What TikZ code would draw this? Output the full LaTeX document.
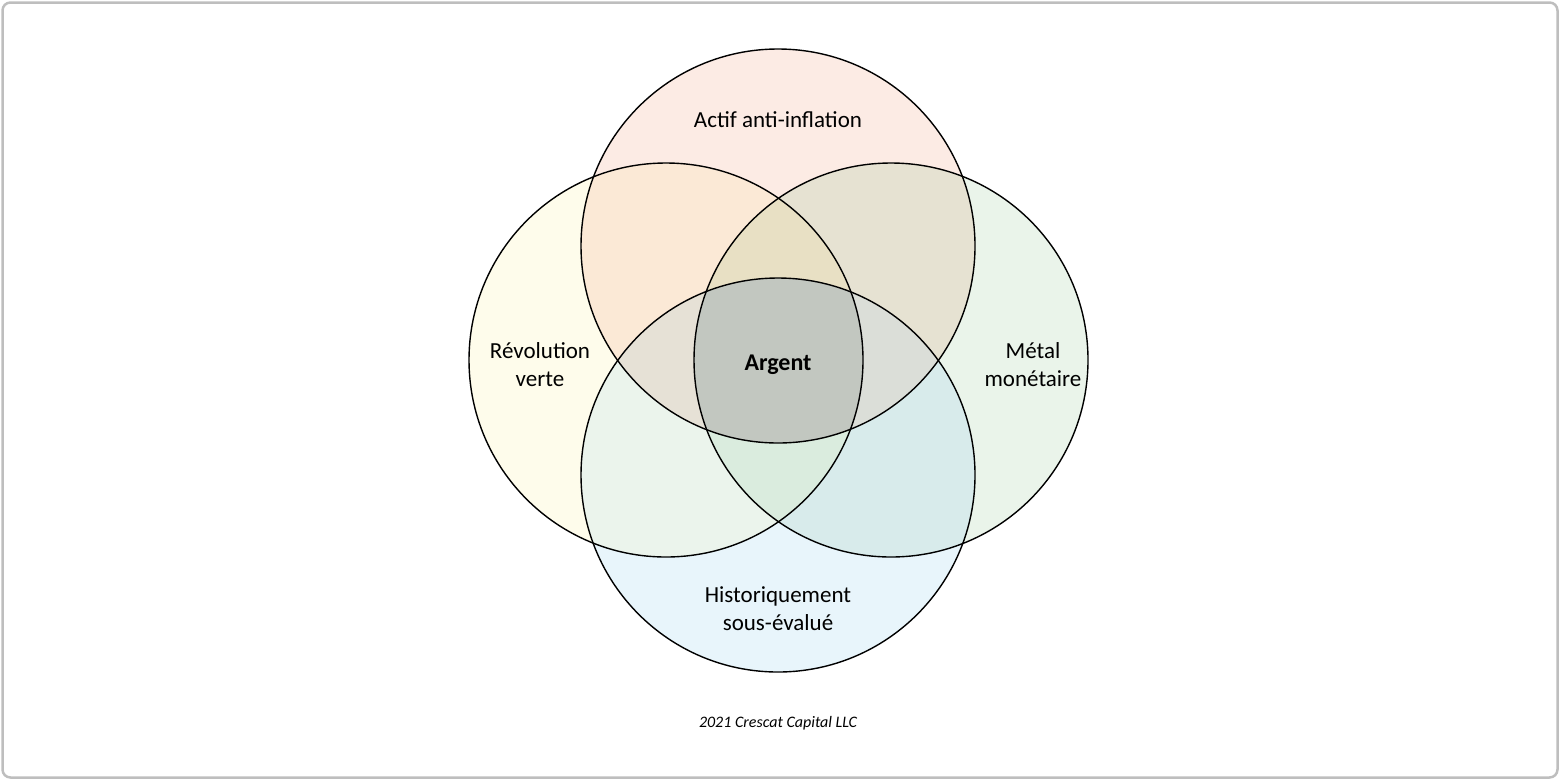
\documentclass[tikz,border=0pt]{standalone}
\usepackage{fontspec}
\setmainfont{Carlito}
\definecolor{fillT}{HTML}{FCEBE4}
\definecolor{fillL}{HTML}{FEFCEB}
\definecolor{fillR}{HTML}{EAF4EA}
\definecolor{fillB}{HTML}{E8F5FB}
\definecolor{fillTL}{HTML}{FBE9D6}
\definecolor{fillTR}{HTML}{E6E2D2}
\definecolor{fillLB}{HTML}{EBF4EC}
\definecolor{fillRB}{HTML}{D8EBEB}
\definecolor{fillTLR}{HTML}{E8E0C4}
\definecolor{fillTLB}{HTML}{E6E1D6}
\definecolor{fillTRB}{HTML}{DBDED8}
\definecolor{fillLRB}{HTML}{DAECDE}
\definecolor{fillAll}{HTML}{C2C7C0}
\definecolor{framegray}{HTML}{BEBEBE}
\newcommand{\rad}{197}

\begin{document}
\begin{tikzpicture}[x=1pt, y=-1pt,
	label/.style={align=center, font=\fontsize{23}{28}\selectfont},
	ring/.style={draw=black, line width=1.4pt}]
	\useasboundingbox (0,0) rectangle (1560,780);
	\draw[framegray, line width=2.5pt, rounded corners=8pt] (2.5,2.5) rectangle (1557.5,777.5);

	\coordinate (top) at (778,246);
	\coordinate (left) at (666,360);
	\coordinate (right) at (891,360);
	\coordinate (bottom) at (778,475);

	% single circles
	\fill[fillT] (top) circle[radius=\rad];
	\fill[fillL] (left) circle[radius=\rad];
	\fill[fillR] (right) circle[radius=\rad];
	\fill[fillB] (bottom) circle[radius=\rad];

	% pairs
	\begin{scope}
		\clip (top) circle[radius=\rad];
		\fill[fillTL] (left) circle[radius=\rad];
		\fill[fillTR] (right) circle[radius=\rad];
	\end{scope}
	\begin{scope}
		\clip (bottom) circle[radius=\rad];
		\fill[fillLB] (left) circle[radius=\rad];
		\fill[fillRB] (right) circle[radius=\rad];
	\end{scope}

	% triples
	\begin{scope}
		\clip (top) circle[radius=\rad];
		\clip (left) circle[radius=\rad];
		\fill[fillTLR] (right) circle[radius=\rad];
		\fill[fillTLB] (bottom) circle[radius=\rad];
	\end{scope}
	\begin{scope}
		\clip (bottom) circle[radius=\rad];
		\clip (right) circle[radius=\rad];
		\fill[fillTRB] (top) circle[radius=\rad];
		\fill[fillLRB] (left) circle[radius=\rad];
	\end{scope}

	% all four
	\begin{scope}
		\clip (top) circle[radius=\rad];
		\clip (left) circle[radius=\rad];
		\clip (right) circle[radius=\rad];
		\fill[fillAll] (bottom) circle[radius=\rad];
	\end{scope}

	\draw[ring] (top) circle[radius=\rad];
	\draw[ring] (left) circle[radius=\rad];
	\draw[ring] (right) circle[radius=\rad];
	\draw[ring] (bottom) circle[radius=\rad];

	\node[label] (inflation) at (778,120) {Actif anti-inflation};
	\node[label] (verte) at (540,365) {Révolution\\verte};
	\node[label] (monetaire) at (1033,365) {Métal\\monétaire};
	\node[label, font=\fontsize{24}{28}\selectfont\bfseries] (argent) at (778,365) {Argent};
	\node[label] (historique) at (778,609) {Historiquement\\sous-évalué};
	\node[font=\fontsize{16}{18}\selectfont\itshape] (credit) at (778,723) {2021 Crescat Capital LLC};
\end{tikzpicture}
\end{document}
